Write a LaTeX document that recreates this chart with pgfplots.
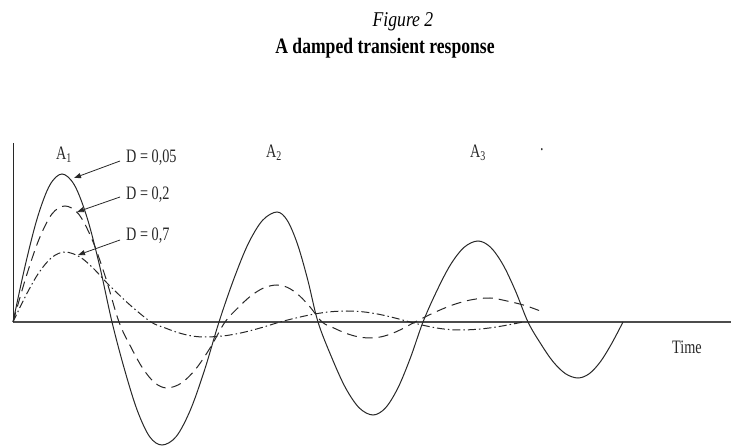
\documentclass[border=0pt]{standalone}
\usepackage{fontspec}
\setmainfont{Liberation Serif}
\newfontfamily\condA[FakeStretch=0.75]{Liberation Serif}
\newfontfamily\condT[FakeStretch=0.80]{Liberation Serif}
\newfontfamily\condF[FakeStretch=0.84]{Liberation Serif}
\usepackage{pgfplots}
\pgfplotsset{compat=1.18}
\usetikzlibrary{arrows.meta}
\definecolor{ink}{RGB}{40,40,40}
\begin{document}
\begin{tikzpicture}
\begin{axis}[
  scale only axis, width=731pt, height=447pt,
  xmin=0, xmax=731, ymin=-125, ymax=322,
  hide axis, clip=false,
]
% axes
\addplot[ink, line width=0.9pt] coordinates {(13,179) (13,0)};
\addplot[black!70, line width=1.4pt] coordinates {(13,0) (731,0)};
% D = 0,05 (solid)
\addplot[ink, line width=1pt, smooth, tension=0.55] table {
x y
13 0
25.25 56.7
37.5 104.6
49.75 136.8
62 148
74.5 136.8
87 104.6
99.5 56.7
112 0
124.5 -47.4
137 -87.7
149.5 -114.5
162 -123
176.25 -114.5
190.5 -87.7
204.75 -47.4
219 0
233.5 42.1
248 77.8
262.5 101.6
277 110
287.25 101.6
297.5 77.8
307.75 42.1
318 0
331.75 -35.6
345.5 -65.8
359.25 -85.9
373 -93
385.5 -85.9
398 -65.8
410.5 -35.6
423 0
436.75 31.0
450.5 57.3
464.25 74.8
478 81
490.5 74.8
503 57.3
515.5 31.0
528 0
540.5 -21.4
553 -39.6
565.5 -51.7
578 -56
589.25 -51.7
600.5 -39.6
611.75 -21.4
623 0
};
% D = 0,2 (dashed)
\addplot[ink, line width=1pt, dash pattern=on 10pt off 6pt, smooth, tension=0.55] table {
x y
13 0
26 44.8
39 82.7
52 108.1
65 116
78.5 108.1
92 82.7
105.5 44.8
119 0
131 -25.3
143 -46.7
155 -61.0
167 -66
181.5 -61.0
196 -46.7
210.5 -25.3
225 0
238 14.2
251 26.2
264 34.2
277 37
288.25 34.2
299.5 26.2
310.75 14.2
322 0
334 -6.1
346 -11.3
358 -14.8
370 -16
381.25 -14.8
392.5 -11.3
403.75 -6.1
415 0
433.75 9.2
452.5 17.0
471.25 22.2
490 24
507 21
525 16.5
543 10
};
% D = 0,7 (dash-dot)
\addplot[ink, line width=1pt, dash pattern=on 8pt off 3pt on 1.5pt off 3pt, smooth, tension=0.55] table {
x y
13 0
26 26.8
39 49.5
52 64.7
65 70
80 65
94 53
108 38
130 17
151 0
164.5 -5.7
178 -10.6
191.5 -13.9
205 -15
223.75 -13.9
242.5 -10.6
261.25 -5.7
280 0
296.75 4.2
313.5 7.8
330.25 10.2
347 11
362.75 10.2
378.5 7.8
394.25 4.2
410 0
422.5 -3.1
435 -5.7
447.5 -7.4
460 -8
475.75 -7.4
491.5 -5.7
507.25 -3.1
523 0
};
% arrows
\draw[ink, line width=0.8pt, -{Triangle[length=7pt,width=5pt]}] (axis cs:120,161) -- (axis cs:74,144);
\draw[ink, line width=0.8pt, -{Triangle[length=7pt,width=5pt]}] (axis cs:120,125) -- (axis cs:77,110);
\draw[ink, line width=0.8pt, -{Triangle[length=7pt,width=5pt]}] (axis cs:120,82) -- (axis cs:78,67);
% labels
\node[anchor=west, inner sep=0pt, text=ink, font=\condA\fontsize{19}{22}\selectfont] at (axis cs:126,164) {D = 0,05};
\node[anchor=west, inner sep=0pt, text=ink, font=\condA\fontsize{19}{22}\selectfont] at (axis cs:126,127) {D = 0,2};
\node[anchor=west, inner sep=0pt, text=ink, font=\condA\fontsize{19}{22}\selectfont] at (axis cs:126,86) {D = 0,7};
\node[inner sep=0pt, text=ink, font=\condA\fontsize{19}{22}\selectfont] at (axis cs:64,167) {A\textsubscript{1}};
\node[inner sep=0pt, text=ink, font=\condA\fontsize{19}{22}\selectfont] at (axis cs:274,169) {A\textsubscript{2}};
\node[inner sep=0pt, text=ink, font=\condA\fontsize{19}{22}\selectfont] at (axis cs:478,169) {A\textsubscript{3}};
\node[inner sep=0pt, text=ink, font=\condA\fontsize{19}{22}\selectfont] at (axis cs:542,172) {.};
\node[inner sep=0pt, text=ink, font=\condA\fontsize{19}{22}\selectfont] at (axis cs:687,-25) {Time};
% titles
\node[inner sep=0pt, text=black, font=\condF\itshape\fontsize{21}{24}\selectfont] at (axis cs:403,300) {Figure 2};
\node[inner sep=0pt, text=black, font=\condT\bfseries\fontsize{22}{26}\selectfont] at (axis cs:385,274) {A damped transient response};
\end{axis}
\pgfresetboundingbox
\path (current axis.south west) rectangle (current axis.north east);
\end{tikzpicture}
\end{document}
